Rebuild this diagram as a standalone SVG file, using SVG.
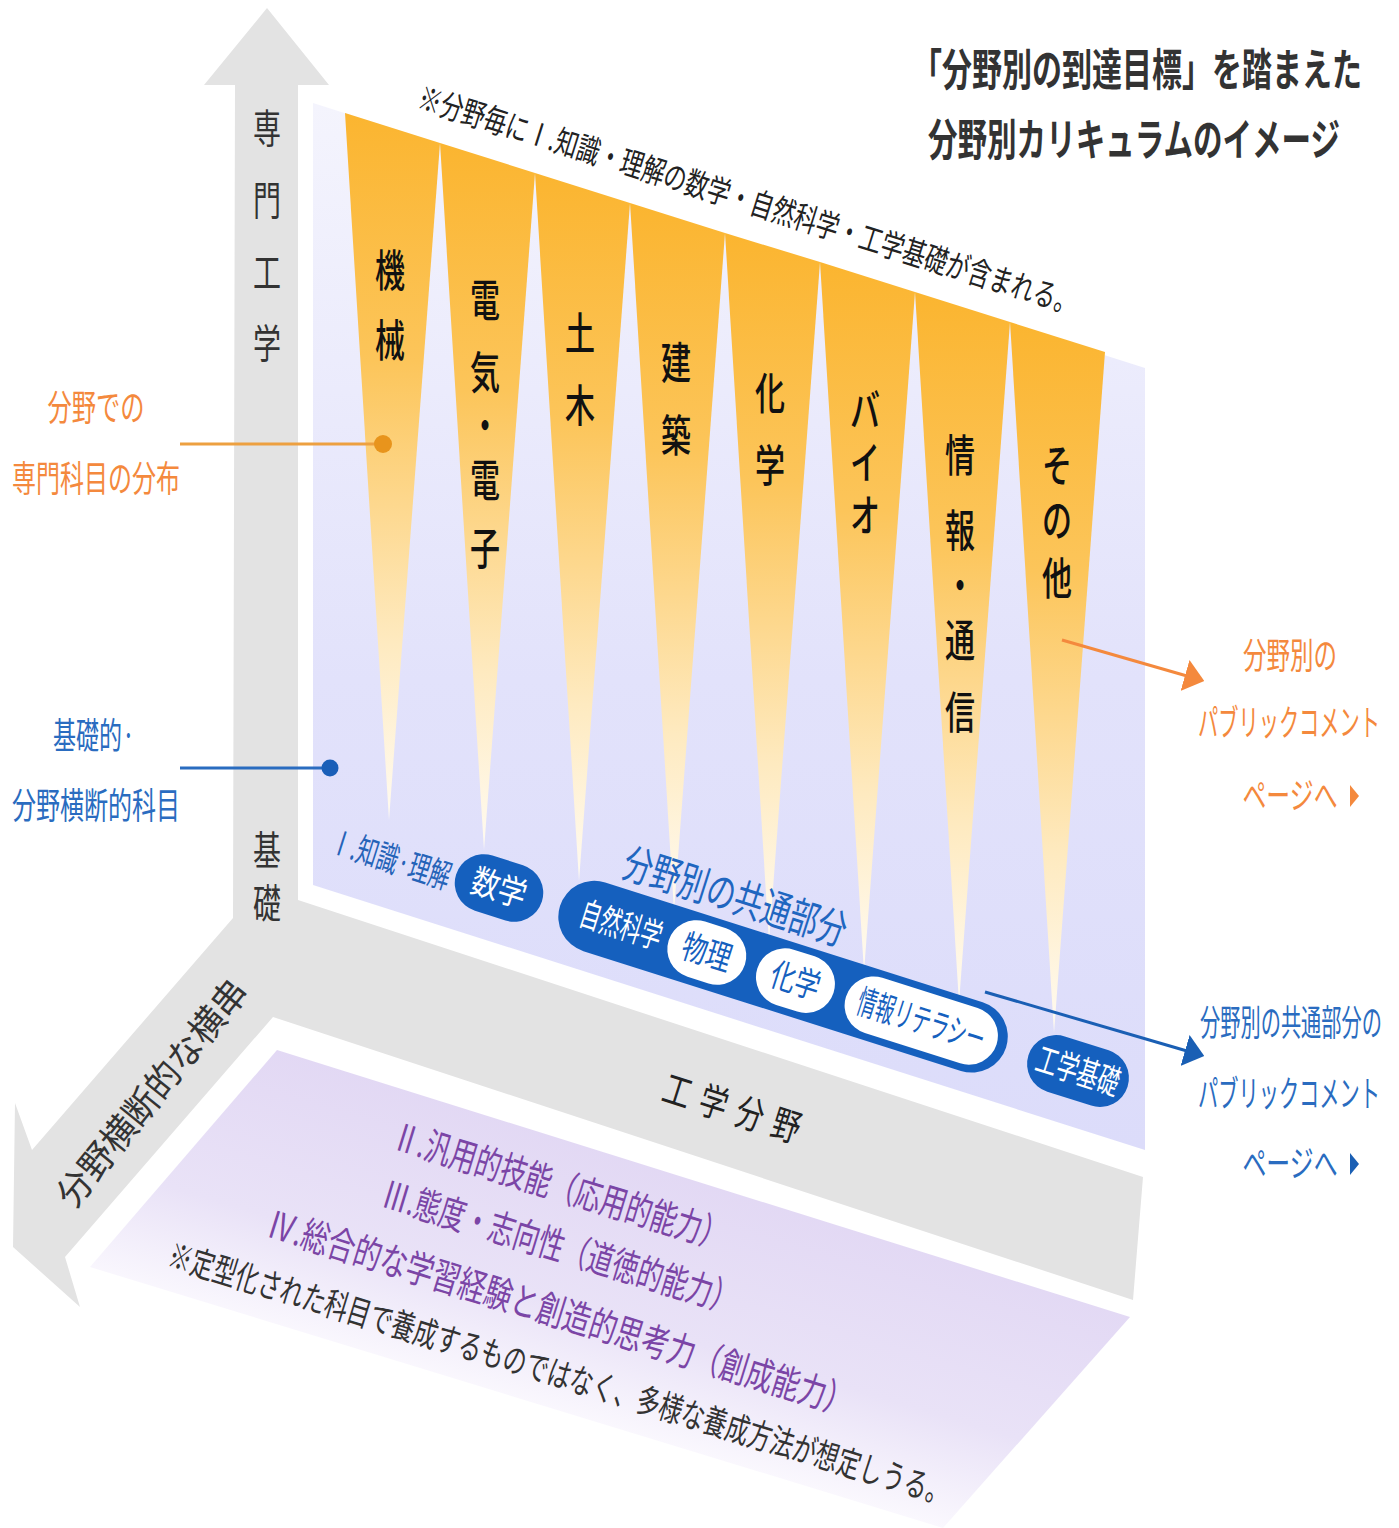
<svg xmlns="http://www.w3.org/2000/svg" width="1399" height="1528" viewBox="0 0 1399 1528">
<defs>
<linearGradient id="panelGrad" x1="0" y1="103" x2="0" y2="1150" gradientUnits="userSpaceOnUse">
<stop offset="0" stop-color="#f4f4fd"/>
<stop offset="0.55" stop-color="#e2e2fb"/>
<stop offset="1" stop-color="#dcdcfa"/>
</linearGradient>
<linearGradient id="wedgeGrad" x1="0" y1="0" x2="0" y2="1">
<stop offset="0" stop-color="#fbb530"/>
<stop offset="0.35" stop-color="#fcc55a"/>
<stop offset="0.75" stop-color="#feeac0"/>
<stop offset="1" stop-color="#fffbf2"/>
</linearGradient>
<linearGradient id="purpleGrad" x1="640" y1="1150" x2="560" y2="1420" gradientUnits="userSpaceOnUse">
<stop offset="0" stop-color="#e2d8f4"/>
<stop offset="0.6" stop-color="#e9e2f7"/>
<stop offset="1" stop-color="#fbf9fe"/>
</linearGradient>
<marker id="headOrange" viewBox="0 0 20 32" refX="2" refY="16" markerWidth="20" markerHeight="32" markerUnits="userSpaceOnUse" orient="auto">
<polygon points="0,0 20,16 0,32" fill="#f4893d"/>
</marker>
<marker id="headBlue" viewBox="0 0 20 32" refX="2" refY="16" markerWidth="20" markerHeight="32" markerUnits="userSpaceOnUse" orient="auto">
<polygon points="0,0 20,16 0,32" fill="#1a5fb4"/>
</marker>
<style>
text{font-family:"Noto Sans CJK JP","Noto Sans CJK SC",sans-serif;}
.ax{font-size:40px;fill:#333;text-anchor:middle;}
.wd{font-size:44px;fill:#111;text-anchor:middle;font-weight:500;}
.or{font-size:36px;fill:#f4893d;text-anchor:middle;}
.bl{font-size:36px;fill:#2a6cc0;text-anchor:middle;}
.title{font-size:44px;fill:#333;font-weight:bold;}
.note{font-size:32px;fill:#222;}
.pu{font-size:38px;fill:#7b45a6;}
.pillW{font-size:34px;fill:#ffffff;text-anchor:middle;}
.pillB{font-size:34px;fill:#1560be;text-anchor:middle;}
.wedge{fill:url(#wedgeGrad);}
.pillDark{fill:#1560be;}
.pillLight{fill:#ffffff;}
</style>
</defs>
<rect width="1399" height="1528" fill="#ffffff"/>

<g id="axes">
<polygon points="267,8 329,85 298,85 298,900 1143,1177 1133,1300 273,1017 65,1257 80,1307 13,1247 15,1103 32,1150 233,918 235,85 204,85" fill="#e3e3e3"/>
<text class="ax" x="267" y="143" textLength="28" lengthAdjust="spacingAndGlyphs">専</text>
<text class="ax" x="267" y="215" textLength="28" lengthAdjust="spacingAndGlyphs">門</text>
<text class="ax" x="267" y="287" textLength="28" lengthAdjust="spacingAndGlyphs">工</text>
<text class="ax" x="267" y="358" textLength="28" lengthAdjust="spacingAndGlyphs">学</text>
<text class="ax" x="267" y="865" textLength="28" lengthAdjust="spacingAndGlyphs">基</text>
<text class="ax" x="267" y="918" textLength="28" lengthAdjust="spacingAndGlyphs">礎</text>
<text transform="translate(74,1210) rotate(-51)" font-size="36" fill="#333" textLength="280" lengthAdjust="spacingAndGlyphs">分野横断的な横串</text>
<g transform="translate(660,1100) rotate(17.6)">
<text x="14" y="0" font-size="38" fill="#222" text-anchor="middle" textLength="28" lengthAdjust="spacingAndGlyphs">工</text>
<text x="52" y="0" font-size="38" fill="#222" text-anchor="middle" textLength="28" lengthAdjust="spacingAndGlyphs">学</text>
<text x="90" y="0" font-size="38" fill="#222" text-anchor="middle" textLength="28" lengthAdjust="spacingAndGlyphs">分</text>
<text x="128" y="0" font-size="38" fill="#222" text-anchor="middle" textLength="28" lengthAdjust="spacingAndGlyphs">野</text>
</g>
</g>

<g id="panel">
<polygon points="313,103 1145,368 1145,1150 313,885" fill="url(#panelGrad)"/>
</g>

<g id="wedges">
<g id="w-kikai">
<polygon class="wedge" points="345,113 440,143 389,820"/>
<text class="wd" x="390" y="287" textLength="30" lengthAdjust="spacingAndGlyphs">機</text>
<text class="wd" x="390" y="357" textLength="30" lengthAdjust="spacingAndGlyphs">械</text>
</g>
<g id="w-denki">
<polygon class="wedge" points="440,143 535,173 484,850"/>
<text class="wd" x="485" y="317" textLength="30" lengthAdjust="spacingAndGlyphs">電</text>
<text class="wd" x="485" y="389" textLength="30" lengthAdjust="spacingAndGlyphs">気</text>
<text class="wd" x="485" y="442" textLength="30" lengthAdjust="spacingAndGlyphs">・</text>
<text class="wd" x="485" y="497" textLength="30" lengthAdjust="spacingAndGlyphs">電</text>
<text class="wd" x="485" y="565" textLength="30" lengthAdjust="spacingAndGlyphs">子</text>
</g>
<g id="w-doboku">
<polygon class="wedge" points="535,173 630,203 579,881"/>
<text class="wd" x="580" y="350" textLength="30" lengthAdjust="spacingAndGlyphs">土</text>
<text class="wd" x="580" y="422" textLength="30" lengthAdjust="spacingAndGlyphs">木</text>
</g>
<g id="w-kenchiku">
<polygon class="wedge" points="630,203 725,233 674,911"/>
<text class="wd" x="676" y="379" textLength="30" lengthAdjust="spacingAndGlyphs">建</text>
<text class="wd" x="676" y="452" textLength="30" lengthAdjust="spacingAndGlyphs">築</text>
</g>
<g id="w-kagaku">
<polygon class="wedge" points="725,233 820,262 769,942"/>
<text class="wd" x="770" y="410" textLength="30" lengthAdjust="spacingAndGlyphs">化</text>
<text class="wd" x="770" y="482" textLength="30" lengthAdjust="spacingAndGlyphs">学</text>
</g>
<g id="w-bio">
<polygon class="wedge" points="820,262 915,292 864,972"/>
<text class="wd" x="865" y="427" textLength="30" lengthAdjust="spacingAndGlyphs">バ</text>
<text class="wd" x="865" y="479" textLength="30" lengthAdjust="spacingAndGlyphs">イ</text>
<text class="wd" x="865" y="532" textLength="30" lengthAdjust="spacingAndGlyphs">オ</text>
</g>
<g id="w-joho">
<polygon class="wedge" points="915,292 1010,322 959,1003"/>
<text class="wd" x="960" y="472" textLength="30" lengthAdjust="spacingAndGlyphs">情</text>
<text class="wd" x="960" y="547" textLength="30" lengthAdjust="spacingAndGlyphs">報</text>
<text class="wd" x="960" y="602" textLength="30" lengthAdjust="spacingAndGlyphs">・</text>
<text class="wd" x="960" y="657" textLength="30" lengthAdjust="spacingAndGlyphs">通</text>
<text class="wd" x="960" y="729" textLength="30" lengthAdjust="spacingAndGlyphs">信</text>
</g>
<g id="w-sonota">
<polygon class="wedge" points="1010,322 1105,352 1054,1033"/>
<text class="wd" x="1057" y="482" textLength="30" lengthAdjust="spacingAndGlyphs">そ</text>
<text class="wd" x="1057" y="537" textLength="30" lengthAdjust="spacingAndGlyphs">の</text>
<text class="wd" x="1057" y="595" textLength="30" lengthAdjust="spacingAndGlyphs">他</text>
</g>
</g>

<g id="top-note">
<text class="note" transform="translate(416,108) rotate(17.5)" textLength="690" lengthAdjust="spacingAndGlyphs">※分野毎にⅠ.知識・理解の数学・自然科学・工学基礎が含まれる。</text>
</g>

<g id="title">
<text class="title" x="912" y="86" textLength="450" lengthAdjust="spacingAndGlyphs">「分野別の到達目標」を踏まえた</text>
<text class="title" x="928" y="156" textLength="412" lengthAdjust="spacingAndGlyphs">分野別カリキュラムのイメージ</text>
</g>

<g id="common">
<text transform="translate(328,852) rotate(17.6)" font-size="34" fill="#2563b8" textLength="124" lengthAdjust="spacingAndGlyphs">Ⅰ.知識·理解</text>
<text transform="translate(620,876) rotate(17.6)" font-size="42" fill="#1f66c0" textLength="232" lengthAdjust="spacingAndGlyphs">分野別の共通部分</text>
<g id="p-sugaku" transform="translate(499,888) rotate(17.6)">
<rect class="pillDark" x="-45" y="-29" width="90" height="58" rx="29"/>
<text class="pillW" x="0" y="12" textLength="56" lengthAdjust="spacingAndGlyphs">数学</text>
</g>
<g id="p-shizen" transform="translate(784,977) rotate(17.6)">
<rect class="pillDark" x="-235" y="-36" width="468" height="72" rx="36"/>
<text class="pillW" x="-171" y="12" textLength="84" lengthAdjust="spacingAndGlyphs">自然科学</text>
<g id="p-butsuri">
<rect class="pillLight" x="-121" y="-29" width="80" height="58" rx="29"/>
<text class="pillB" x="-81" y="12" textLength="50" lengthAdjust="spacingAndGlyphs">物理</text>
</g>
<g id="p-kagaku">
<rect class="pillLight" x="-28" y="-29" width="80" height="58" rx="29"/>
<text class="pillB" x="12" y="12" textLength="50" lengthAdjust="spacingAndGlyphs">化学</text>
</g>
<g id="p-literacy">
<rect class="pillLight" x="65" y="-29" width="158" height="58" rx="29"/>
<text class="pillB" x="144" y="12" textLength="132" lengthAdjust="spacingAndGlyphs">情報リテラシー</text>
</g>
</g>
<g id="p-kogaku" transform="translate(1078,1071) rotate(17.6)">
<rect class="pillDark" x="-52" y="-29" width="104" height="58" rx="29"/>
<text class="pillW" x="0" y="12" textLength="86" lengthAdjust="spacingAndGlyphs">工学基礎</text>
</g>
</g>

<g id="general">
<polygon points="277,1050 1130,1317 943,1528 90,1267" fill="url(#purpleGrad)"/>
<text class="pu" transform="translate(390,1148) rotate(17.1)" textLength="348" lengthAdjust="spacingAndGlyphs">Ⅱ.汎用的技能（応用的能力）</text>
<text class="pu" transform="translate(380,1206) rotate(17)" textLength="369" lengthAdjust="spacingAndGlyphs">Ⅲ.態度・志向性（道徳的能力）</text>
<text class="pu" transform="translate(265,1236) rotate(17.2)" textLength="610" lengthAdjust="spacingAndGlyphs">Ⅳ.総合的な学習経験と創造的思考力（創成能力）</text>
<text transform="translate(166,1266) rotate(17.1)" font-size="34" fill="#333" textLength="816" lengthAdjust="spacingAndGlyphs">※定型化された科目で養成するものではなく、多様な養成方法が想定しうる。</text>
</g>

<g id="label-senmon">
<text class="or" x="96" y="421" textLength="97" lengthAdjust="spacingAndGlyphs">分野での</text>
<text class="or" x="96" y="492" textLength="168" lengthAdjust="spacingAndGlyphs">専門科目の分布</text>
</g>
<g id="label-kiso">
<text class="bl" x="94" y="749" textLength="82" lengthAdjust="spacingAndGlyphs">基礎的·</text>
<text class="bl" x="96" y="819" textLength="168" lengthAdjust="spacingAndGlyphs">分野横断的科目</text>
</g>
<g id="link-field">
<text class="or" x="1290" y="669" textLength="94" lengthAdjust="spacingAndGlyphs">分野別の</text>
<text class="or" x="1289" y="736" textLength="182" lengthAdjust="spacingAndGlyphs">パブリックコメント</text>
<text class="or" x="1290" y="809" textLength="95" lengthAdjust="spacingAndGlyphs">ページへ</text>
<polygon points="1350,785 1359,796 1350,807" fill="#f4893d"/>
</g>
<g id="link-common">
<text class="bl" x="1291" y="1036" textLength="182" lengthAdjust="spacingAndGlyphs">分野別の共通部分の</text>
<text class="bl" x="1289" y="1107" textLength="182" lengthAdjust="spacingAndGlyphs">パブリックコメント</text>
<text class="bl" x="1290" y="1177" textLength="95" lengthAdjust="spacingAndGlyphs">ページへ</text>
<polygon points="1350,1153 1359,1164 1350,1175" fill="#1a5fb4"/>
</g>

<g id="connectors">
<line x1="180" y1="444" x2="383" y2="444" stroke="#eda040" stroke-width="3"/>
<circle cx="383" cy="444" r="9" fill="#e8941c"/>
<line x1="180" y1="768" x2="330" y2="768" stroke="#2a6cc0" stroke-width="3"/>
<circle cx="330" cy="768" r="8.5" fill="#1a5fb8"/>
<line x1="1062" y1="640" x2="1187" y2="676" stroke="#f4893d" stroke-width="3" marker-end="url(#headOrange)"/>
<line x1="985" y1="992" x2="1187" y2="1051" stroke="#1a5fb4" stroke-width="3" marker-end="url(#headBlue)"/>
</g>
</svg>
